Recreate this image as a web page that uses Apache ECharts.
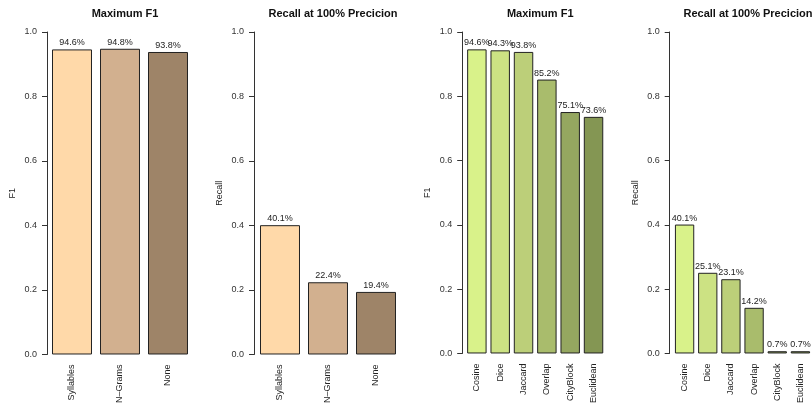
<!DOCTYPE html>
<html>
<head>
<meta charset="utf-8">
<script src="https://cdn.jsdelivr.net/npm/echarts@6/dist/echarts.min.js"></script>
<style>html,body{margin:0;padding:0;background:#fff}#c{width:812px;height:406px}</style>
</head>
<body>
<div id="c"></div>
<script>
// Data
var featCategories = ['Syllables', 'N\u2013Grams', 'None'];
var featF1 = [94.6, 94.8, 93.8];
var featRecall = [40.1, 22.4, 19.4];
var featColors = ['#FFD9A9', '#D2B08F', '#9E8468'];

var simCategories = ['Cosine', 'Dice', 'Jaccard', 'Overlap', 'CityBlock', 'Euclidean'];
var simF1 = [94.6, 94.3, 93.8, 85.2, 75.1, 73.6];
var simRecall = [40.1, 25.1, 23.1, 14.2, 0.7, 0.7];
var simColors = ['#D9F28A', '#CCE283', '#BCCF79', '#A9BC6C', '#95A760', '#849653'];

var titles = ['Maximum F1', 'Recall at 100% Precicion', 'Maximum F1', 'Recall at 100% Precicion'];
var yNames = ['F1', 'Recall', 'F1', 'Recall'];
var yTicks = [0, 0.2, 0.4, 0.6, 0.8, 1.0];

var FONT = '"Liberation Sans", Arial, sans-serif';
var panels = [
  {left: 48, width: 144, cats: featCategories, vals: featF1, colors: featColors, off: 1},
  {left: 256, width: 144, cats: featCategories, vals: featRecall, colors: featColors, off: 2},
  {left: 465.2, width: 140, cats: simCategories, vals: simF1, colors: simColors, off: 3},
  {left: 673, width: 140, cats: simCategories, vals: simRecall, colors: simColors, off: 3.3}
];

var grids = [], xAxes = [], yAxes = [], series = [], titleArr = [];
panels.forEach(function (p, i) {
  grids.push({left: p.left, width: p.width, top: 32, height: 323.5, containLabel: false});
  titleArr.push({
    text: titles[i], left: p.left + p.width / 2, top: 3, textAlign: 'center',
    textStyle: {fontFamily: FONT, fontSize: 11, fontWeight: 'bold', color: '#111'}
  });
  xAxes.push({
    type: 'category', gridIndex: i, data: p.cats,
    axisLine: {show: false}, axisTick: {show: false},
    axisLabel: {rotate: 90, margin: 10, fontFamily: FONT, fontSize: 9, color: '#222', interval: 0}
  });
  yAxes.push({
    type: 'value', gridIndex: i, min: 0, max: 1, interval: 0.2, offset: p.off,
    name: yNames[i], nameLocation: 'middle', nameGap: 30,
    nameTextStyle: {fontFamily: FONT, fontSize: 9, color: '#222'},
    axisLine: {show: true, lineStyle: {color: '#333', width: 1}},
    axisTick: {show: true, length: 5, lineStyle: {color: '#333'}},
    splitLine: {show: false},
    axisLabel: {margin: 10, fontFamily: FONT, fontSize: 9, color: '#333',
      formatter: function (v) { return v.toFixed(1); }}
  });
  series.push({
    type: 'bar', xAxisIndex: i, yAxisIndex: i,
    barCategoryGap: '16.67%',
    data: p.vals.map(function (v, j) {
      return {value: v / 100, itemStyle: {color: p.colors[j]}};
    }),
    itemStyle: {borderColor: '#222', borderWidth: 1},
    label: {show: true, position: 'top', distance: 2, fontFamily: FONT, fontSize: 9, color: '#222',
      formatter: function (d) { return (d.value * 100).toFixed(1) + '%'; }},
    emphasis: {disabled: true}
  });
});

var chart = echarts.init(document.getElementById('c'), null, {renderer: 'canvas'});
chart.setOption({
  animation: false,
  backgroundColor: '#fff',
  title: titleArr,
  grid: grids,
  xAxis: xAxes,
  yAxis: yAxes,
  series: series
});
</script>
</body>
</html>
